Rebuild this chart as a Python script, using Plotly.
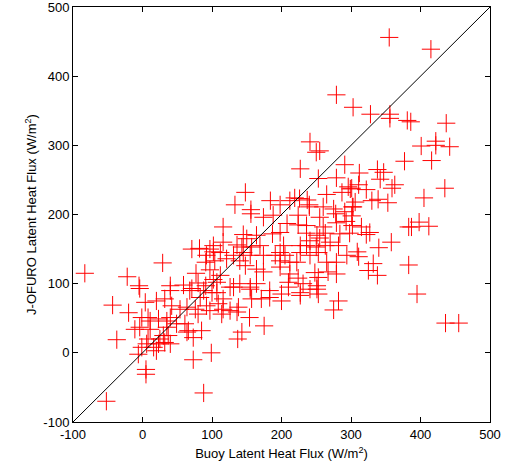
import plotly.graph_objects as go

buoy = [
    -83, -52, -22, -5, 29, 40, 59, 71, 82, 91, 77, 102, 92, 97, 80, 102, 91, 71,
    -43, -37, -20, -4, 5, 5, 73, 88, 99,
    137, 143, 175, 154, 275, 282,
    395, 436, 455,
    377, 416, 401, 442, 422, 435, 405, 412, 398, 387, 383, 383, 358, 340, 332, 325, 338,
    309, 311, 327, 322, 315, 302, 330, 339, 353, 359, 363, 322, 311, 312, 338, 347, 342,
    301, 306, 303, 301,
    355, 415, 303, 328, 356, 356, 381, 386, 437, 422,
    279, 241, 255,
    250, 227, 291, 279, 296, 253, 148, 265, 287, 299, 133, 156, 156,
    184, 198, 212, 219, 226, 237, 240, 240, 260, 275, 278, 291, 302,
    174, 188, 224, 208, 224, 236, 255, 260, 279, 293,
    116, 145, 150, 164, 198, 187, 236, 251, 263, 255, 241, 227, 250, 263, 284, 298, 282, 270,
    102, 116, 136, 143, 157, 169, 203, 198, 205, 191, 174, 155, 145, 131, 112, 104, 121, 140,
    148, 164, 174, 198, 198, 212, 222, 227, 236, 241, 253, 265, 279, 294, 248, 253, 267, 279,
    212, 224, 210, 231, 251, 164, 155, 140, 126, 112, 97, 107,
    40, 68, 88, 100, 83,
    4, 20, 32, 42, 54, 64, 76, 92, 97, 80,
    -1, 8, 11, 23, 35, 40, 49, 61, 66,
    -11, -4, 11, 35, 30, 37, 25, 8, 73, 85, 64,
    6, -1, 16, 20, -6, 23, 32, 40,
    107, 116, 109, 116, 114, 126, 138, 136, 131, 155, 157, 171, 183, 183, 200, 200, 210,
    227, 227, 241, 253, 251,
]
jofuro = [
    115, -70, 110, 97, 130, 97, 98, 150, 151, 131, 115, 146, 141, 150, 101, 106, 97, 93,
    69, 19, 58, 93, -24, -31, -10, -58, 0,
    20, 30, 39, 51, 62, 75,
    85, 43, 43,
    277, 278, 299, 298, 300, 238, 224, 183, 189, 182, 182, 127, 160, 152, 129, 119, 112,
    146, 139, 174, 171, 182, 184, 220, 222, 217, 238, 243, 236, 243, 260, 265, 261, 251,
    238, 218, 211, 198,
    456, 439, 355, 345, 345, 339, 336, 334, 332, 306,
    373, 305, 292,
    290, 266, 272, 253, 240, 252, 232, 229, 232, 237, 214, 207, 201,
    220, 214, 220, 224, 223, 221, 214, 211, 211, 208, 201, 204, 211,
    196, 199, 199, 187, 185, 184, 196, 182, 188, 190,
    182, 171, 165, 170, 174, 172, 173, 170, 173, 166, 162, 155, 153, 155, 172, 173, 155, 160,
    155, 160, 156, 153, 153, 155, 155, 145, 141, 141, 141, 141, 145, 141, 145, 133, 136, 133,
    126, 121, 117, 133, 124, 131, 131, 145, 155, 141, 145, 131, 131, 141, 116, 109, 117, 114,
    114, 108, 102, 100, 97, 100, 95, 100, 95, 112, 120, 102,
    90, 90, 90, 87, 80,
    73, 75, 78, 68, 63, 66, 63, 68, 61, 56,
    51, 51, 46, 49, 46, 51, 42, 42, 32,
    34, 37, 34, 37, 25, 25, 20, 20, 22, 32, 30,
    13, 8, 8, 3, -2, 13, 15, 13,
    87, 78, 71, 63, 56, 61, 66, 59, 95, 92, 78, 78, 80, 90, 75, 85, 95,
    83, 87, 92, 85, 92,
]

axis_ticks = [-100, 0, 100, 200, 300, 400, 500]
tick_labels = ["-100", "0", "100", "200", "300", "400", "500"]
line_x = [-100, 500]
line_y = [-100, 500]

FONT = "Liberation Sans, Arial, sans-serif"

fig = go.Figure()
fig.add_trace(go.Scatter(
    x=buoy, y=jofuro, mode="markers",
    marker=dict(symbol="cross-thin", size=13, line=dict(color="#ff0000", width=1)),
    showlegend=False, hoverinfo="skip",
))
fig.add_trace(go.Scatter(
    x=line_x, y=line_y, mode="lines",
    line=dict(color="black", width=1), showlegend=False, hoverinfo="skip",
))

axis_common = dict(
    range=[-100, 500], tickvals=axis_ticks, ticktext=tick_labels,
    ticks="inside", ticklen=5,
    tickcolor="black", showline=True, linecolor="black", linewidth=1,
    mirror="ticks", showgrid=False, zeroline=False, ticklabeloverflow="allow",
    automargin=False,
    tickfont=dict(family=FONT, size=13, color="black"),
)
fig.update_xaxes(**axis_common,
                 title=dict(text="Buoy Latent Heat Flux (W/m<sup>2</sup>)",
                            font=dict(family=FONT, size=13, color="black"),
                            standoff=8))
fig.update_yaxes(**axis_common,
                 title=dict(text="J-OFURO Latent Heat Flux (W/m<sup>2</sup>)",
                            font=dict(family=FONT, size=13, color="black"),
                            standoff=3))
fig.update_layout(
    width=510, height=470,
    margin=dict(l=73, r=20, t=7, b=48),
    paper_bgcolor="white", plot_bgcolor="white",
)
fig.write_html("out.html")
